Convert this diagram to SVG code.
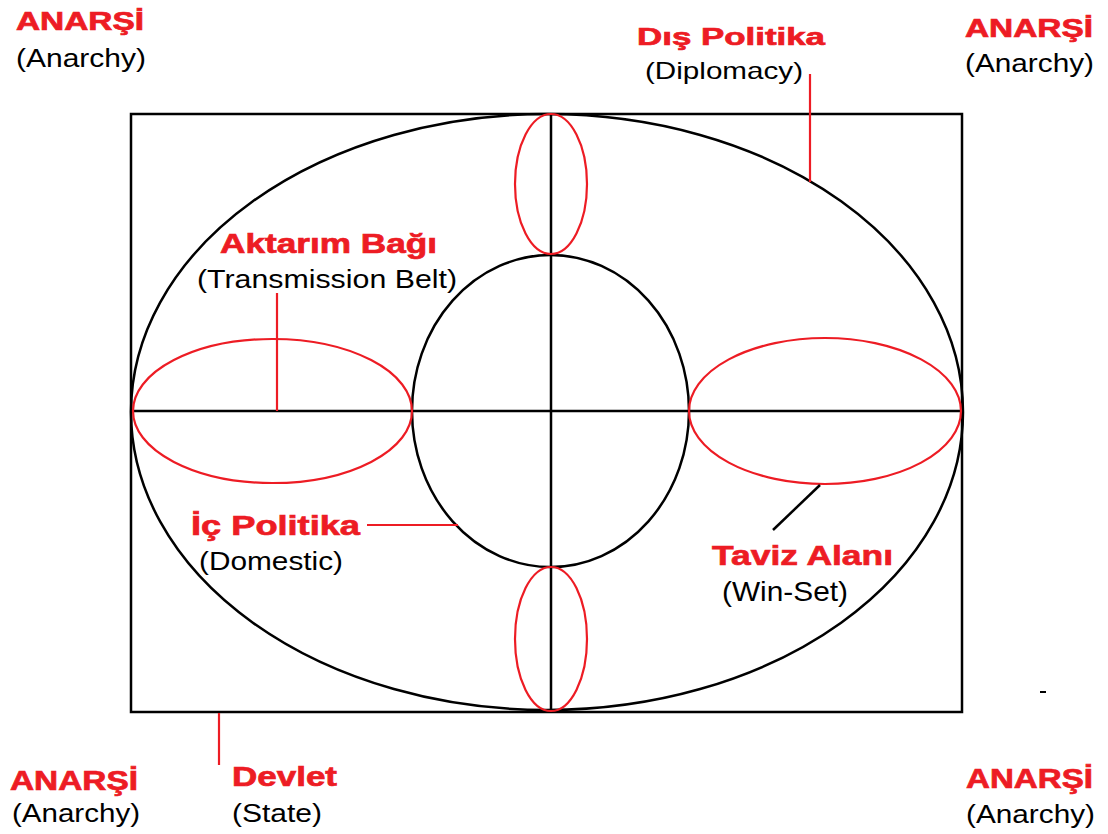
<svg xmlns="http://www.w3.org/2000/svg" width="1108" height="834" viewBox="0 0 1108 834">
<style>
.k{fill:none;stroke:#000;stroke-width:2.5}
.r{fill:none;stroke:#ed1c24;stroke-width:2.2}
.t{font-family:"Liberation Sans",Arial,sans-serif;font-weight:bold;fill:#ed1c24;stroke:#ed1c24;stroke-width:0.7;font-size:27px}
.s{font-family:"Liberation Sans",Arial,sans-serif;fill:#000;font-size:26px}
</style>
<rect width="1108" height="834" fill="#fff"/>
<g id="state"><rect class="k" x="131" y="114" width="831" height="598"/></g>
<g id="diplomacy"><ellipse class="k" cx="547" cy="412" rx="416" ry="298"/></g>
<g id="domestic"><ellipse class="k" cx="550.5" cy="411" rx="138.5" ry="156"/></g>
<g id="axes"><line class="k" x1="131" y1="411" x2="962" y2="411"/><line class="k" x1="551" y1="114" x2="551" y2="712"/></g>
<g id="belt-left"><ellipse class="r" cx="272.5" cy="411" rx="139.5" ry="72"/></g>
<g id="winset-right"><ellipse class="r" cx="825" cy="411" rx="136" ry="73"/></g>
<g id="top-small"><ellipse class="r" cx="551" cy="184" rx="36" ry="70"/></g>
<g id="bottom-small"><ellipse class="r" cx="551" cy="639" rx="36" ry="72"/></g>
<g id="connectors">
<line class="r" x1="810" y1="74" x2="810" y2="182"/>
<line class="r" x1="277" y1="293" x2="277" y2="411"/>
<line class="r" x1="367" y1="525" x2="458" y2="525"/>
<line class="k" x1="820" y1="485" x2="773" y2="530"/>
<line class="r" x1="219" y1="713" x2="219" y2="765"/>
<line x1="1040" y1="692" x2="1046" y2="692" stroke="#000" stroke-width="2"/>
</g>
<g id="label-tl"><text class="t" x="16" y="30" style="font-size:25px" textLength="128" lengthAdjust="spacingAndGlyphs">ANARŞİ</text><text class="s" x="16" y="67" textLength="130" lengthAdjust="spacingAndGlyphs">(Anarchy)</text></g>
<g id="label-tr"><text class="t" x="965" y="37" style="font-size:25.5px" textLength="128" lengthAdjust="spacingAndGlyphs">ANARŞİ</text><text class="s" x="965" y="72" textLength="129" lengthAdjust="spacingAndGlyphs">(Anarchy)</text></g>
<g id="label-bl"><text class="t" x="10" y="790" textLength="128" lengthAdjust="spacingAndGlyphs">ANARŞİ</text><text class="s" x="12" y="822" textLength="128" lengthAdjust="spacingAndGlyphs">(Anarchy)</text></g>
<g id="label-br"><text class="t" x="966" y="788" textLength="127" lengthAdjust="spacingAndGlyphs">ANARŞİ</text><text class="s" x="966" y="823" textLength="129" lengthAdjust="spacingAndGlyphs">(Anarchy)</text></g>
<g id="label-dis"><text class="t" x="637" y="45" style="font-size:24px" textLength="188" lengthAdjust="spacingAndGlyphs">Dış Politika</text><text class="s" x="645" y="79" style="font-size:24px" textLength="158" lengthAdjust="spacingAndGlyphs">(Diplomacy)</text></g>
<g id="label-aktarim"><text class="t" x="220" y="253" textLength="217" lengthAdjust="spacingAndGlyphs">Aktarım Bağı</text><text class="s" x="197" y="288" textLength="260" lengthAdjust="spacingAndGlyphs">(Transmission Belt)</text></g>
<g id="label-ic"><text class="t" x="191" y="535" textLength="169" lengthAdjust="spacingAndGlyphs">İç Politika</text><text class="s" x="199" y="570" textLength="144" lengthAdjust="spacingAndGlyphs">(Domestic)</text></g>
<g id="label-taviz"><text class="t" x="712" y="565" style="font-size:28px" textLength="181" lengthAdjust="spacingAndGlyphs">Taviz Alanı</text><text class="s" x="722" y="601" style="font-size:28px" textLength="126" lengthAdjust="spacingAndGlyphs">(Win-Set)</text></g>
<g id="label-devlet"><text class="t" x="232" y="786" textLength="105" lengthAdjust="spacingAndGlyphs">Devlet</text><text class="s" x="232" y="822" textLength="90" lengthAdjust="spacingAndGlyphs">(State)</text></g>
</svg>
